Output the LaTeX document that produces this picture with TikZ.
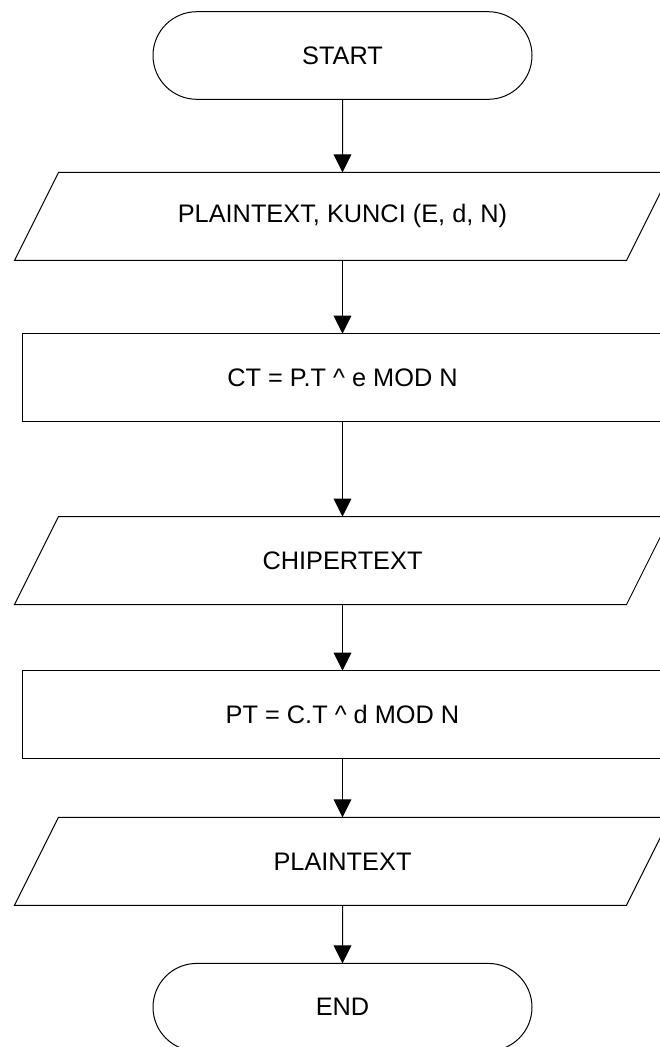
\documentclass[tikz,border=0pt]{standalone}
\usepackage{fontspec}
\setmainfont{Liberation Sans}
\usetikzlibrary{shapes.misc,arrows.meta}
\begin{document}
\begin{tikzpicture}[x=0.75pt,y=-0.75pt,
  every node/.style={font=\fontsize{19pt}{22pt}\selectfont, inner sep=0pt, outer sep=0pt},
  terminal/.style={draw, line width=0.75pt, rounded rectangle, minimum width=284.25pt, minimum height=65.7pt},
  process/.style={draw, line width=0.75pt, rectangle, minimum width=480.75pt, minimum height=66pt},
  iobox/.style={rectangle, minimum width=459pt, minimum height=66pt},
  outline/.style={line width=0.75pt},
  flow/.style={line width=0.75pt, -{Triangle[width=13.3pt,length=13.5pt]}}]
\useasboundingbox (0,0) rectangle (660,1047);
\clip (0,0) rectangle (660,1047);

% flowchart blocks
\node[terminal] (start) at (342.5,55.5)  {START};
\node[iobox]    (p1)    at (342.5,216.4) {PLAINTEXT, KUNCI (E, d, N)};
\node[process]  (enc)   at (342.5,377.7) {CT = P.T \^{} e MOD N};
\node[iobox]    (p2)    at (342.5,560.6) {CHIPERTEXT};
\node[process]  (dec)   at (342.5,714.7) {PT = C.T \^{} d MOD N};
\node[iobox]    (p3)    at (342.5,861.3) {PLAINTEXT};
\node[terminal] (end)   at (342.5,1007.2) {END};

% slanted outlines of the input/output blocks
\foreach \n in {p1,p2,p3}
  \draw[outline] ([xshift=-16.5pt]\n.south west) -- ([xshift=16.5pt]\n.north west)
    -- ([xshift=16.5pt]\n.north east) -- ([xshift=-16.5pt]\n.south east) -- cycle;

% connectors
\draw[flow] (start) -- (p1);
\draw[flow] (p1) -- (enc);
\draw[flow] (enc) -- (p2);
\draw[flow] (p2) -- (dec);
\draw[flow] (dec) -- (p3);
\draw[flow] (p3) -- (end);
\end{tikzpicture}
\end{document}
